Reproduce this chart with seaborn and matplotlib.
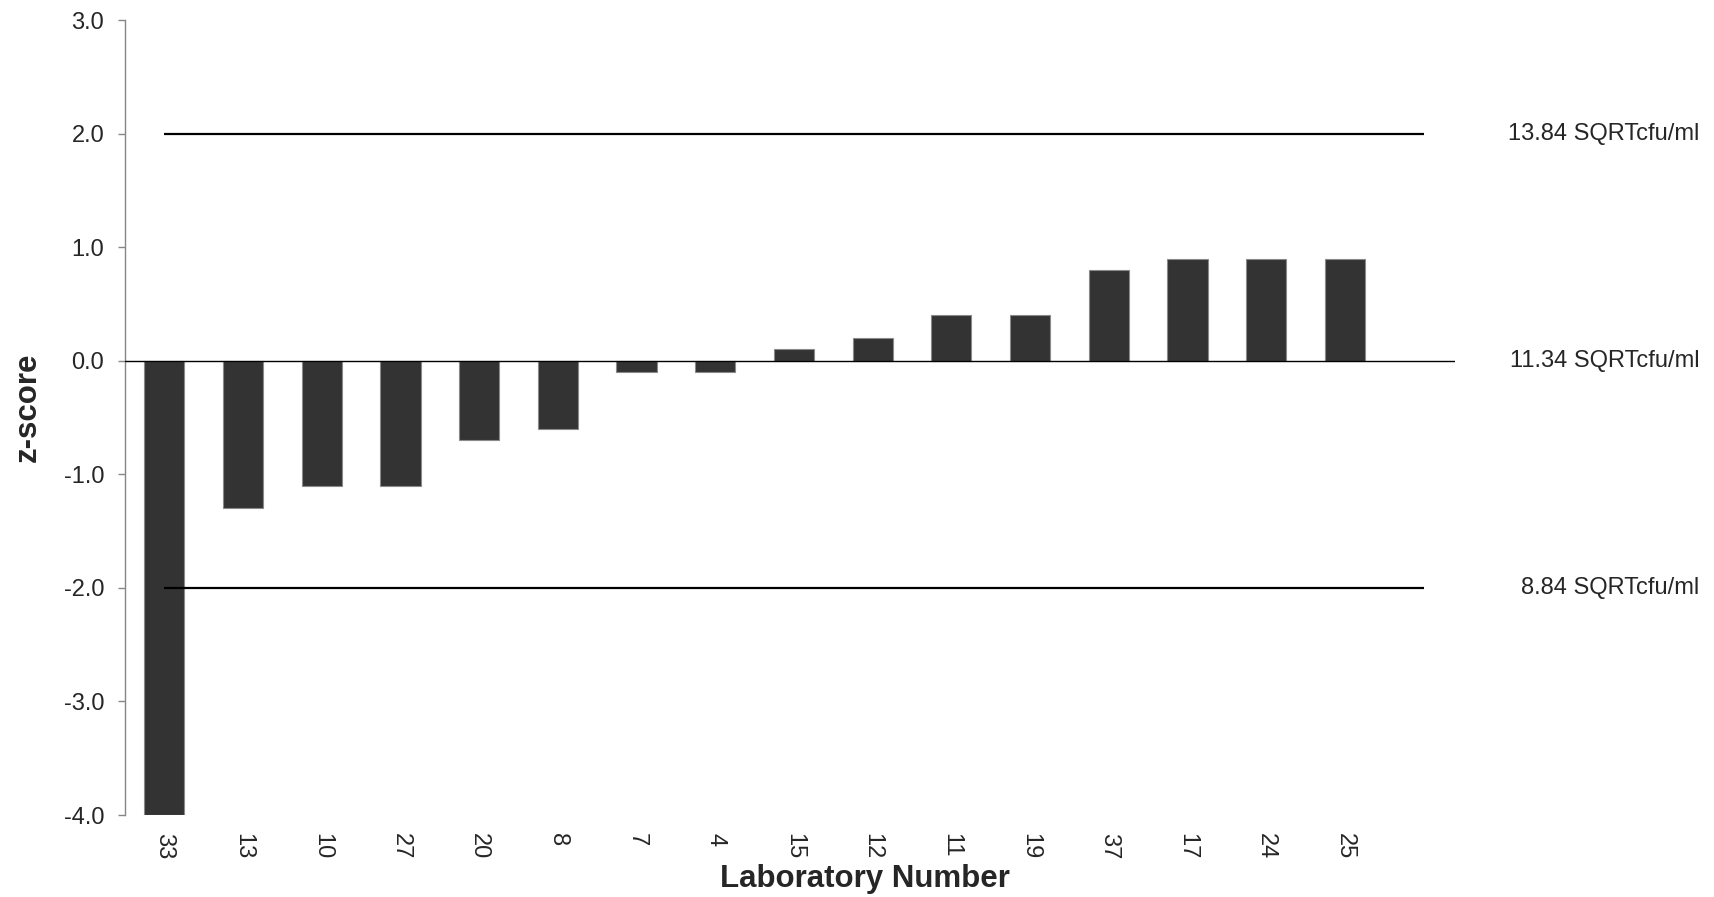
import matplotlib
matplotlib.use("Agg")
import matplotlib.pyplot as plt
import seaborn as sns
from matplotlib.ticker import FormatStrFormatter

# datos de la grafica
laboratorios = ["33", "13", "10", "27", "20", "8", "7", "4", "15", "12", "11", "19", "37", "17", "24", "25"]
z_scores = [-4.0, -1.3, -1.1, -1.1, -0.7, -0.6, -0.1, -0.1, 0.1, 0.2, 0.4, 0.4, 0.8, 0.9, 0.9, 0.9]
niveles_ref = [2.0, 0.0, -2.0]
etiquetas_ref = ["13.84 SQRTcfu/ml", "11.34 SQRTcfu/ml", "8.84 SQRTcfu/ml"]

sns.set_style("white")
plt.rcParams["font.family"] = ["Liberation Sans", "DejaVu Sans"]
plt.rcParams["axes.unicode_minus"] = False

fig = plt.figure(figsize=(17.15, 8.97), dpi=100)
ax = fig.add_axes([0.0729, 0.0914, 0.8484 - 0.0729, 0.9777 - 0.0914])

sns.barplot(x=laboratorios, y=z_scores, order=laboratorios, color="#333333",
            saturation=1, width=0.51, edgecolor="#8a8a8a", linewidth=0.8, ax=ax)

# linea del cero y limites +/-2
ax.axhline(0, color="black", lw=1.0, zorder=3)
ax.hlines([niveles_ref[0], niveles_ref[2]], 0, len(laboratorios), color="black", lw=1.6, zorder=3)

for nivel, texto in zip(niveles_ref, etiquetas_ref):
    ax.annotate(texto, xy=(0.991, nivel), xycoords=("figure fraction", "data"),
                ha="right", va="center", fontsize=17)

ax.set_ylim(-4.0, 3.0)
ax.set_xlim(-0.5, 16.4)
ax.set_yticks([3, 2, 1, 0, -1, -2, -3, -4])
ax.yaxis.set_major_formatter(FormatStrFormatter("%.1f"))

for lado in ["top", "right", "bottom"]:
    ax.spines[lado].set_visible(False)
ax.spines["left"].set_color("#868686")
ax.spines["left"].set_linewidth(1.0)

ax.tick_params(axis="y", which="major", left=True, direction="out", length=5,
               color="#868686", width=1.0, pad=10, labelsize=17)
ax.tick_params(axis="x", length=0, pad=13, labelsize=17, labelrotation=-90)
for lbl in ax.get_xticklabels():
    lbl.set_va("top")
    lbl.set_ha("center")

ax.set_xlabel("Laboratory Number", fontsize=22.5, fontweight="bold", va="center")
ax.xaxis.set_label_coords(0.556, -0.081)
ax.set_ylabel("z-score", fontsize=22.5, fontweight="bold", va="center")
ax.yaxis.set_label_coords(-0.0729, 0.513)

fig.savefig("out.png", dpi=100)
